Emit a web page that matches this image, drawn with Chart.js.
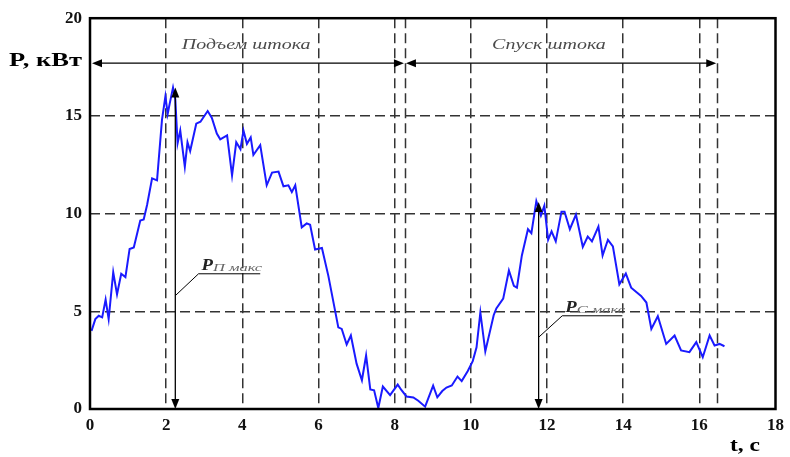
<!DOCTYPE html>
<html><head><meta charset="utf-8">
<script src="https://cdn.jsdelivr.net/npm/chart.js@4/dist/chart.umd.min.js"></script>
<style>html,body{margin:0;padding:0;background:#fff}#wrap{width:790px;height:457px}</style>
</head><body><div id="wrap"><canvas id="c" width="790" height="457"></canvas></div>
<script>
const tValues = [0.04,0.14,0.23,0.32,0.41,0.49,0.61,0.71,0.82,0.93,1.04,1.15,1.32,1.41,1.5,1.63,1.76,1.89,1.98,2.04,2.09,2.18,2.24,2.3,2.37,2.49,2.56,2.63,2.79,2.9,3.09,3.2,3.33,3.42,3.6,3.73,3.84,3.95,4.03,4.12,4.22,4.29,4.47,4.64,4.78,4.95,5.08,5.21,5.3,5.39,5.56,5.69,5.78,5.91,6.09,6.26,6.52,6.61,6.74,6.85,7.0,7.14,7.25,7.36,7.46,7.57,7.69,7.88,8.08,8.18,8.31,8.49,8.62,8.8,9.01,9.12,9.25,9.36,9.5,9.65,9.76,9.92,10.05,10.15,10.25,10.38,10.6,10.67,10.85,11.0,11.13,11.21,11.34,11.5,11.59,11.72,11.84,11.93,12.03,12.12,12.23,12.38,12.46,12.6,12.76,12.94,13.07,13.18,13.35,13.46,13.6,13.73,13.9,14.07,14.21,14.47,14.61,14.74,14.91,15.13,15.35,15.52,15.74,15.92,16.09,16.27,16.4,16.53,16.66];
const pValues = [4.0,4.6,4.77,4.69,5.6,4.6,7.0,5.87,6.92,6.75,8.19,8.27,9.65,9.7,10.45,11.8,11.7,14.8,16.0,15.1,15.6,16.45,15.85,13.6,14.25,12.4,13.65,13.2,14.6,14.7,15.25,14.9,14.1,13.8,14.0,11.95,13.65,13.3,14.25,13.57,13.9,13.0,13.5,11.45,12.1,12.15,11.4,11.45,11.1,11.45,9.3,9.5,9.43,8.16,8.24,6.8,4.18,4.1,3.3,3.76,2.32,1.47,2.74,1.0,0.96,0.05,1.15,0.71,1.25,0.96,0.64,0.59,0.42,0.12,1.2,0.6,0.92,1.1,1.2,1.66,1.43,1.95,2.45,3.16,4.94,2.95,4.8,5.15,5.65,7.09,6.3,6.21,7.86,9.2,9.0,10.64,9.9,10.4,8.66,9.09,8.58,10.1,10.1,9.2,9.95,8.3,8.83,8.58,9.34,7.86,8.66,8.32,6.38,6.93,6.21,5.79,5.45,4.1,4.75,3.33,3.76,3.0,2.91,3.42,2.65,3.76,3.25,3.33,3.21];
const xTicks = [0,2,4,6,8,10,12,14,16,18];
const yTicks = [0,5,10,15,20];
const phaseBounds = [0, 8.27, 16.47];
const phaseLabels = ['Подъем штока', 'Спуск штока'];
const phaseLabelX = [4.1, 12.05];
const phaseArrowLevel = 17.7;
const phaseLabelLevel = 18.6;
const peakTimes = [2.24, 11.78];
const peakValues = [16.45, 10.6];
const peakSubs = ['П макс', 'С макс'];
const leaderStart = [[2.24, 5.8], [11.78, 3.67]];
const leaderElbow = [[2.85, 6.92], [12.4, 4.77]];
const leaderEnd = [4.47, 13.98];
const yTitle = 'P, кВт';
const xTitle = 't, с';

const points = tValues.map((t, i) => ({x: t, y: pValues[i]}));

function arrowHead(ctx, x, y, dx, dy) {
  const L = 10, W = 4;
  const len = Math.hypot(dx, dy); const ux = dx/len, uy = dy/len;
  ctx.beginPath();
  ctx.moveTo(x, y);
  ctx.lineTo(x - ux*L - uy*W, y - uy*L + ux*W);
  ctx.lineTo(x - ux*L + uy*W, y - uy*L - ux*W);
  ctx.closePath(); ctx.fill();
}
function stretchText(ctx, text, x, y, sx, align) {
  const w = ctx.measureText(text).width * sx;
  let x0 = x;
  if (align === 'center') x0 = x - w / 2;
  else if (align === 'right') x0 = x - w;
  ctx.save(); ctx.textAlign = 'left';
  ctx.translate(x0, y); ctx.scale(sx, 1); ctx.fillText(text, 0, 0);
  ctx.restore();
  return w;
}

const deco = {
  id: 'deco',
  beforeDatasetsDraw(chart) {
    const {ctx, chartArea: a, scales: {x, y}} = chart;
    ctx.save();
    ctx.strokeStyle = '#333'; ctx.lineWidth = 1.5; ctx.setLineDash([10, 5]);
    [phaseBounds[1], phaseBounds[2]].forEach(v => {
      const px = Math.round(x.getPixelForValue(v)) + 0.5;
      ctx.beginPath(); ctx.moveTo(px, a.top); ctx.lineTo(px, a.bottom); ctx.stroke();
    });
    ctx.restore();
  },
  afterDatasetsDraw(chart) {
    const {ctx, chartArea: a, scales: {x, y}} = chart;
    ctx.save();
    ctx.strokeStyle = '#000'; ctx.lineWidth = 2.5; ctx.setLineDash([]);
    ctx.strokeRect(a.left, a.top, a.right - a.left, a.bottom - a.top);
    ctx.lineWidth = 1.3;
    const ay = y.getPixelForValue(phaseArrowLevel);
    for (let i = 0; i < 2; i++) {
      ctx.fillStyle = '#000';
      const x0 = x.getPixelForValue(phaseBounds[i]) + (i === 0 ? 2 : 1);
      const x1 = x.getPixelForValue(phaseBounds[i+1]) - 1;
      ctx.beginPath(); ctx.moveTo(x0 + 4, ay); ctx.lineTo(x1 - 4, ay); ctx.stroke();
      arrowHead(ctx, x0, ay, -1, 0);
      arrowHead(ctx, x1, ay, 1, 0);
      ctx.font = 'italic 15px "Liberation Serif"';
      ctx.fillStyle = '#4a4a4a'; ctx.textBaseline = 'middle';
      stretchText(ctx, phaseLabels[i], x.getPixelForValue(phaseLabelX[i]), y.getPixelForValue(phaseLabelLevel), 1.33, 'center');
    }
    for (let i = 0; i < 2; i++) {
      ctx.fillStyle = '#000';
      const px = x.getPixelForValue(peakTimes[i]);
      const top = y.getPixelForValue(peakValues[i]);
      const bot = y.getPixelForValue(0);
      ctx.strokeStyle = '#000'; ctx.lineWidth = 1.3;
      ctx.beginPath(); ctx.moveTo(px, top + 4); ctx.lineTo(px, bot - 4); ctx.stroke();
      arrowHead(ctx, px, top, 0, -1);
      arrowHead(ctx, px, bot, 0, 1);
      ctx.lineWidth = 1;
      const s = leaderStart[i], e = leaderElbow[i];
      ctx.beginPath();
      ctx.moveTo(x.getPixelForValue(s[0]), y.getPixelForValue(s[1]));
      ctx.lineTo(x.getPixelForValue(e[0]), y.getPixelForValue(e[1]));
      ctx.lineTo(x.getPixelForValue(leaderEnd[i]), y.getPixelForValue(e[1]));
      ctx.stroke();
      const lx = x.getPixelForValue(e[0]) + 3;
      const ly = y.getPixelForValue(e[1]) - 4;
      ctx.textBaseline = 'alphabetic';
      ctx.font = 'italic bold 17px "Liberation Serif"';
      ctx.fillStyle = '#222';
      const pw = stretchText(ctx, 'P', lx, ly, 1.1, 'left');
      ctx.font = 'italic 11px "Liberation Serif"';
      ctx.fillStyle = '#666';
      stretchText(ctx, peakSubs[i], lx + pw, ly + 1, 1.5, 'left');
    }
    ctx.fillStyle = '#000';
    ctx.font = 'bold 18px "Liberation Serif"';
    ctx.textBaseline = 'middle';
    const yw = ctx.measureText(yTitle).width;
    stretchText(ctx, yTitle, 9, 61, 73 / yw, 'left');
    const xw = ctx.measureText(xTitle).width;
    stretchText(ctx, xTitle, 730, 446, 30 / xw, 'left');
    ctx.restore();
  }
};

new Chart(document.getElementById('c'), {
  type: 'scatter',
  data: { datasets: [{
    data: points, showLine: true, borderColor: '#1a1aff', borderWidth: 2,
    pointRadius: 0, tension: 0, fill: false
  }]},
  options: {
    responsive: false, animation: false, devicePixelRatio: 1,
    layout: { padding: { left: 0, top: 15, right: 14, bottom: 0 } },
    plugins: { legend: { display: false }, tooltip: { enabled: false } },
    scales: {
      x: {
        type: 'linear', min: 0, max: 18,
        afterBuildTicks: s => { s.ticks = xTicks.map(v => ({value: v})); },
        afterFit: s => { s.height = 48; },
        grid: { drawTicks: false, color: c => (c.tick && (c.tick.value === 0 || c.tick.value === 18)) ? 'rgba(0,0,0,0)' : '#333', lineWidth: 1.5 },
        border: { display: false, dash: [10, 5] },
        ticks: { padding: 6, color: '#111', font: { family: 'Liberation Serif', weight: 'bold', size: 17 } }
      },
      y: {
        type: 'linear', min: 0, max: 20,
        afterBuildTicks: s => { s.ticks = yTicks.map(v => ({value: v})); },
        afterFit: s => { s.width = 90; },
        grid: { drawTicks: false, color: c => (c.tick && (c.tick.value === 0 || c.tick.value === 20)) ? 'rgba(0,0,0,0)' : '#333', lineWidth: 1.5 },
        border: { display: false, dash: [10, 5] },
        ticks: { padding: 8, color: '#111', font: { family: 'Liberation Serif', weight: 'bold', size: 17 } }
      }
    }
  },
  plugins: [deco]
});
</script>
</body></html>
